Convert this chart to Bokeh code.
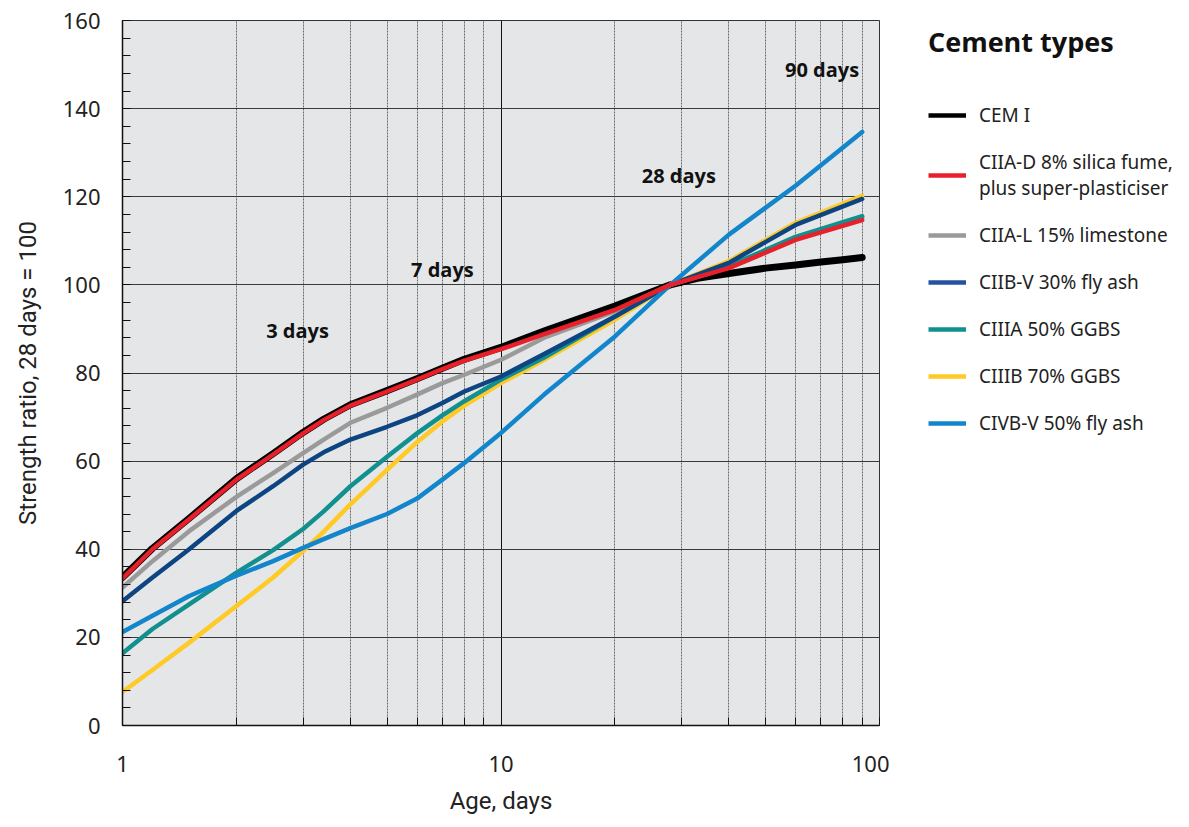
from bokeh.plotting import figure
from bokeh.layouts import row
from bokeh.models import (Range1d, FixedTicker, NumeralTickFormatter, Legend, LegendItem,
                          ColumnDataSource)
from bokeh.core.properties import value
from bokeh.embed import file_html
from bokeh.resources import INLINE

# ---------------- data ----------------
days = [1, 1.2, 1.5, 2, 2.5, 3, 3.4, 4, 5, 6, 7, 8, 10, 13, 20, 28, 40, 60, 90]
cem_i_days = [1, 1.2, 1.5, 2, 2.5, 3, 3.4, 4, 5, 6, 7, 8, 10, 13, 20, 28, 33, 40, 50, 60, 70, 80, 90]

cem_i    = [33.6, 40.2, 47.0, 56.0, 61.7, 66.5, 69.5, 72.8, 76.0, 78.7, 81.1, 83.1, 85.8, 89.5, 95.2, 100, 101.5, 102.6, 103.8, 104.5, 105.2, 105.7, 106.2]
ciia_d   = [33.4, 40.0, 46.8, 55.8, 61.5, 66.3, 69.3, 72.6, 75.8, 78.5, 80.9, 82.8, 85.4, 88.8, 94.3, 100, 103.8, 110.2, 114.7]
ciia_l   = [31.3, 37.3, 44.1, 51.9, 57.3, 61.8, 64.9, 68.7, 72.1, 75.1, 77.7, 79.6, 83.0, 88.0, 94.0, 100, 104.0, 110.6, 115.3]
ciib_v   = [28.2, 33.6, 40.0, 48.7, 54.3, 59.2, 62.0, 64.9, 67.8, 70.4, 73.2, 75.8, 79.2, 84.3, 92.8, 100, 105.0, 113.6, 119.5]
ciiia    = [16.4, 21.9, 27.5, 34.7, 39.8, 44.6, 48.6, 54.3, 61.0, 66.3, 70.4, 73.6, 78.5, 83.5, 92.8, 100, 104.3, 110.9, 115.6]
ciiib    = [7.6, 12.6, 18.8, 27.1, 33.6, 39.6, 44.0, 50.2, 58.0, 64.3, 69.0, 72.6, 77.7, 83.0, 92.1, 100, 105.4, 114.1, 120.2]
civb_v   = [21.2, 24.9, 29.4, 34.0, 37.3, 40.3, 42.3, 44.8, 48.0, 51.5, 55.8, 59.6, 66.4, 75.1, 88.3, 100, 111.4, 122.5, 134.7]

series_names = ["CEM I", "CIIA-D 8% silica fume,\nplus super-plasticiser", "CIIA-L 15% limestone",
                "CIIB-V 30% fly ash", "CIIIA 50% GGBS", "CIIIB 70% GGBS", "CIVB-V 50% fly ash"]
series_days = [cem_i_days, days, days, days, days, days, days]
series_values = [cem_i, ciia_d, ciia_l, ciib_v, ciiia, ciiib, civb_v]
series_colors = ["#000000", "#e8202a", "#9a9a9a", "#0d4482", "#11908f", "#ffc926", "#1386cb"]
legend_colors = ["#000000", "#e8202a", "#9a9a9a", "#2452a0", "#11908f", "#ffc926", "#1386cb"]
series_widths = [7, 4.5, 4.5, 4.5, 4.5, 4.5, 4.5]
draw_order = [0, 2, 5, 4, 3, 6, 1]

age_labels = ["3 days", "7 days", "28 days", "90 days"]
age_label_x = [2.9, 7.0, 29.5, 70.5]
age_label_y = [89.7, 103.4, 124.8, 148.9]

x_major = [1, 10, 100]
x_minor = [2, 3, 4, 5, 6, 7, 8, 9, 20, 30, 40, 50, 60, 70, 80, 90]
y_major = [0, 20, 40, 60, 80, 100, 120, 140, 160]
y_minor = list(range(0, 161, 4))

# ---------------- main figure ----------------
H = 819
W1 = 889
p = figure(width=W1, height=H, x_axis_type="log", output_backend="svg", toolbar_location=None,
           x_range=Range1d(1, 100), y_range=Range1d(0, 160),
           min_border_left=122, min_border_right=W1 - 879, min_border_top=20, min_border_bottom=H - 725)

p.border_fill_color = "#ffffff"
p.background_fill_color = "#e5e6e8"
p.outline_line_color = "#333333"
p.outline_line_width = 1

p.xaxis.ticker = FixedTicker(ticks=x_major, minor_ticks=x_minor)
p.yaxis.ticker = FixedTicker(ticks=y_major, minor_ticks=y_minor)
p.xaxis.formatter = NumeralTickFormatter(format="0")

for ax in (p.xaxis[0], p.yaxis[0]):
    ax.axis_line_color = "#111111"
    ax.axis_line_width = 1.5
    ax.major_tick_in = 8
    ax.major_tick_out = 0
    ax.minor_tick_in = 8
    ax.minor_tick_out = 0
    ax.major_tick_line_color = "#111111"
    ax.minor_tick_line_color = "#111111"
    ax.major_label_text_font = "Noto Sans"
    ax.major_label_text_font_size = "22px"
    ax.major_label_text_color = "#222222"
    ax.axis_label_text_font = "Roboto"
    ax.axis_label_text_font_size = "24px"
    ax.axis_label_text_font_style = "normal"
    ax.axis_label_text_color = "#222222"

p.xaxis.axis_label = "Age, days"
p.yaxis.axis_label = "Strength ratio, 28 days = 100"
p.xaxis.major_label_standoff = 30
p.xaxis.axis_label_standoff = 12
p.yaxis.major_label_standoff = 22
p.yaxis.axis_label_standoff = 18

p.xgrid.grid_line_color = "#111111"
p.xgrid.grid_line_width = 1
p.xgrid.minor_grid_line_color = "#6a6a6a"
p.xgrid.minor_grid_line_dash = "2 1"
p.xgrid.minor_grid_line_width = 1
p.ygrid.grid_line_color = "#3a3a3a"
p.ygrid.grid_line_width = 1.2

for i in draw_order:
    src = ColumnDataSource(dict(x=series_days[i], y=series_values[i]))
    p.line("x", "y", source=src, line_color=series_colors[i], line_width=series_widths[i],
           line_cap="round", line_join="round")

lab_src = ColumnDataSource(dict(x=age_label_x, y=age_label_y, t=age_labels))
p.text("x", "y", text="t", source=lab_src, text_font=value("Open Sans"), text_font_size="20px",
       text_font_style="bold", text_align="center", text_baseline="middle", text_color="#111111")

# ---------------- legend figure ----------------
W2 = 1181 - W1
q = figure(width=W2, height=H, output_backend="svg", toolbar_location=None,
           x_range=Range1d(0, 1), y_range=Range1d(0, 1),
           x_axis_location=None, y_axis_location=None,
           min_border_left=36, min_border_right=0, min_border_top=0, min_border_bottom=0)
q.grid.visible = False
q.outline_line_color = None
q.background_fill_color = "#ffffff"
q.border_fill_color = "#ffffff"

items = []
for i in range(len(series_names)):
    # off-range placeholder renderers, used only to draw the legend swatches
    r = q.line(x=[-5, -4], y=[-5, -4], line_color=legend_colors[i], line_width=4.5)
    items.append(LegendItem(label=series_names[i], renderers=[r]))

legend = Legend(items=items, location="top_left", title="Cement types",
                title_text_font="Open Sans",
                title_text_font_size="27px", title_text_font_style="bold", title_text_color="#111111",
                title_standoff=42,
                label_text_font="Noto Sans", label_text_font_size="19px", label_text_color="#222222",
                label_standoff=13, glyph_width=38, glyph_height=24, label_height=24,
                spacing=21, padding=0, margin=3,
                border_line_color=None, background_fill_alpha=0)
q.add_layout(legend, "center")

layout = row(p, q, spacing=0)
open("out.html", "w").write(file_html(layout, INLINE))
